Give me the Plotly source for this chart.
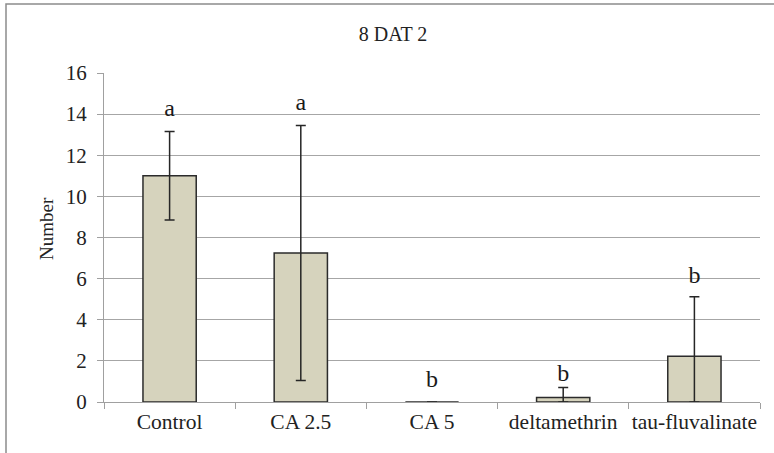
import plotly.graph_objects as go

categories = ["Control", "CA 2.5", "CA 5", "deltamethrin", "tau-fluvalinate"]
means = [11.0, 7.25, 0.0, 0.22, 2.22]
errors = [2.15, 6.2, 0.0, 0.49, 2.9]
letters = ["a", "a", "b", "b", "b"]
letter_y = [14.22, 14.47, 1.0, 1.33, 6.1]
y_ticks = [0, 2, 4, 6, 8, 10, 12, 14, 16]

FONT = "Liberation Serif"
W, H = 774, 453
L, R, T, B = 104, 14, 72.7, 50.7
pw = W - L - R
ph = H - T - B

errors_minus = [min(e, v) for e, v in zip(errors, means)]

fig = go.Figure()
fig.add_trace(go.Bar(
    x=categories, y=means, width=0.406,
    marker=dict(color="#d6d3bd", line=dict(color="#2b2b2b", width=1.5)),
    error_y=dict(type="data", array=errors, arrayminus=errors_minus,
                 color="#262626", thickness=1.5, width=5, visible=True),
    showlegend=False, hoverinfo="skip",
))
fig.add_trace(go.Scatter(
    x=categories, y=letter_y, mode="text", text=letters,
    textfont=dict(family=FONT, size=24, color="#1a1a1a"),
    textposition="middle center", showlegend=False, hoverinfo="skip",
    cliponaxis=False,
))

fig.update_layout(
    width=W, height=H,
    margin=dict(l=L, r=R, t=T, b=B, pad=0, autoexpand=False),
    paper_bgcolor="white", plot_bgcolor="white",
    font=dict(family=FONT, size=21, color="#222222"),
    title=dict(text="8 DAT 2", x=(393 - L) / pw, xref="paper", xanchor="center",
               y=1 - 34 / H, yref="container", yanchor="middle",
               font=dict(family=FONT, size=20, color="#222222")),
    bargap=0.594,
    xaxis=dict(
        showline=True, linecolor="#a0a0a0", linewidth=1.3, automargin=False,
        ticks="outside", tickson="boundaries", ticklen=6, tickcolor="#a0a0a0",
        tickwidth=1.3, showgrid=False, tickangle=0,
        tickfont=dict(family=FONT, size=21.5, color="#222222"),
        range=[-0.5, 4.5],
    ),
    yaxis=dict(
        range=[0, 16], tickvals=y_ticks, showline=True, linecolor="#a0a0a0",
        linewidth=1.3, ticks="outside", ticklen=6, tickcolor="#a0a0a0", tickwidth=1.3,
        showgrid=True, gridcolor="#a6a6a6", gridwidth=1.3, zeroline=False, automargin=False,
        tickfont=dict(family=FONT, size=21, color="#222222"), ticklabelstandoff=6,
    ),
    annotations=[dict(
        text="Number", textangle=-90, xref="paper", yref="paper",
        x=(46 - L) / pw, y=(H - B - 229) / ph, xanchor="center", yanchor="middle",
        showarrow=False, font=dict(family=FONT, size=19, color="#222222"),
    )],
    shapes=[dict(
        type="rect", xref="paper", yref="paper",
        x0=(6 - L) / pw, x1=(790 - L) / pw, y0=-(470 - (H - B)) / ph, y1=(H - B - 3.5) / ph,
        line=dict(color="#8c8c8c", width=1.5), fillcolor="rgba(0,0,0,0)", layer="below",
    )],
)

fig.write_html("out.html", config={"displayModeBar": False},
               post_script="document.body.style.margin='0';")
